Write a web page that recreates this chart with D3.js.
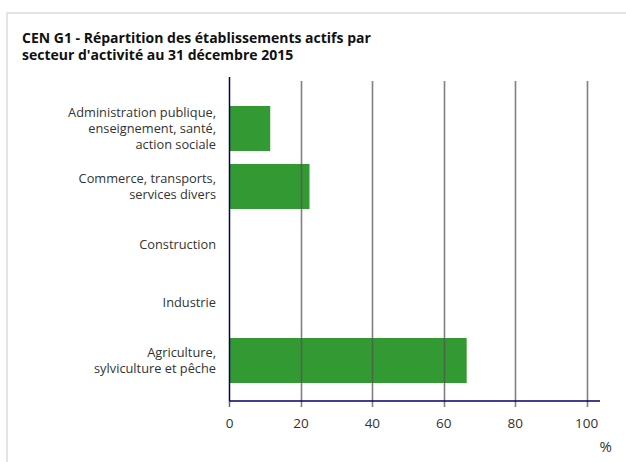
<!DOCTYPE html>
<meta charset="utf-8">
<style>
body { margin: 0; background: #fff; }
svg { font-family: "Open Sans", sans-serif; }
</style>
<svg width="626" height="462"></svg>
<script src="https://d3js.org/d3.v7.min.js"></script>
<script>

var categories = [
  ["Administration publique,", "enseignement, santé,", "action sociale"],
  ["Commerce, transports,", "services divers"],
  ["Construction"],
  ["Industrie"],
  ["Agriculture,", "sylviculture et pêche"]
];
var values = [11.4, 22.4, 0, 0, 66.4];
var xTicks = [0, 20, 40, 60, 80, 100];

var svg = d3.select("svg");

// frame
svg.append("path")
    .attr("d", "M7,462V13H626")
    .attr("fill", "none")
    .attr("stroke", "#e3e3e3")
    .attr("stroke-width", 2);

// title
var title = svg.append("text")
    .attr("x", 22)
    .attr("y", 43)
    .attr("font-size", 14)
    .attr("font-weight", "bold")
    .attr("fill", "#111");
title.append("tspan").text("CEN G1 - Répartition des établissements actifs par");
title.append("tspan").attr("x", 22).attr("dy", 16.5).text("secteur d'activité au 31 décembre 2015");

var x = d3.scaleLinear().domain([0, 100]).range([229.5, 586.7]);

var y = d3.scaleBand()
    .domain(d3.range(categories.length))
    .range([99.5, 389.5])
    .paddingInner(0.224)
    .paddingOuter(0.112);

var data = values.map(function(v, i) { return {i: i, value: v, label: categories[i]}; });

// bars
svg.append("g")
  .selectAll("rect")
  .data(data.filter(function(d) { return d.value > 0; }))
  .enter().append("rect")
    .attr("x", x(0))
    .attr("y", function(d) { return y(d.i); })
    .attr("width", function(d) { return x(d.value) - x(0); })
    .attr("height", y.bandwidth())
    .attr("fill", "#339933");

// grid lines + ticks
svg.append("g")
  .selectAll("line")
  .data(xTicks.filter(function(t) { return t > 0; }))
  .enter().append("line")
    .attr("x1", function(d) { return Math.round(x(d)) + 0.5; })
    .attr("x2", function(d) { return Math.round(x(d)) + 0.5; })
    .attr("y1", 81)
    .attr("y2", 407)
    .attr("stroke", "#555")
    .attr("stroke-opacity", 0.75)
    .attr("stroke-width", 1.6);

svg.append("line")
    .attr("x1", x(0)).attr("x2", x(0))
    .attr("y1", 401).attr("y2", 407)
    .attr("stroke", "#666")
    .attr("stroke-width", 1.5);

// axes lines
svg.append("line")
    .attr("x1", x(0)).attr("x2", x(0))
    .attr("y1", 77).attr("y2", 401)
    .attr("stroke", "#000066")
    .attr("stroke-width", 1.5);

svg.append("line")
    .attr("x1", x(0)).attr("x2", 600)
    .attr("y1", 401).attr("y2", 401)
    .attr("stroke", "#000066")
    .attr("stroke-width", 1.5);

// tick labels
svg.append("g")
  .selectAll("text")
  .data(xTicks)
  .enter().append("text")
    .attr("x", function(d) { return x(d); })
    .attr("y", 428)
    .attr("text-anchor", "middle")
    .attr("font-size", 13.5)
    .attr("fill", "#333")
    .text(function(d) { return d; });

svg.append("text")
    .attr("x", 612)
    .attr("y", 452)
    .attr("text-anchor", "end")
    .attr("font-size", 15)
    .attr("fill", "#333")
    .text("%");

// category labels
var lh = 16;
var labels = svg.append("g")
  .selectAll("text")
  .data(data)
  .enter().append("text")
    .attr("text-anchor", "end")
    .attr("font-size", 12.8)
    .attr("fill", "#333")
    .attr("y", function(d) {
      return y(d.i) + y.bandwidth() / 2 - (d.label.length - 1) * lh / 2 + 4.5;
    });

labels.selectAll("tspan")
  .data(function(d) { return d.label; })
  .enter().append("tspan")
    .attr("x", 216)
    .attr("dy", function(d, j) { return j === 0 ? 0 : lh; })
    .text(function(d) { return d; });

</script>
